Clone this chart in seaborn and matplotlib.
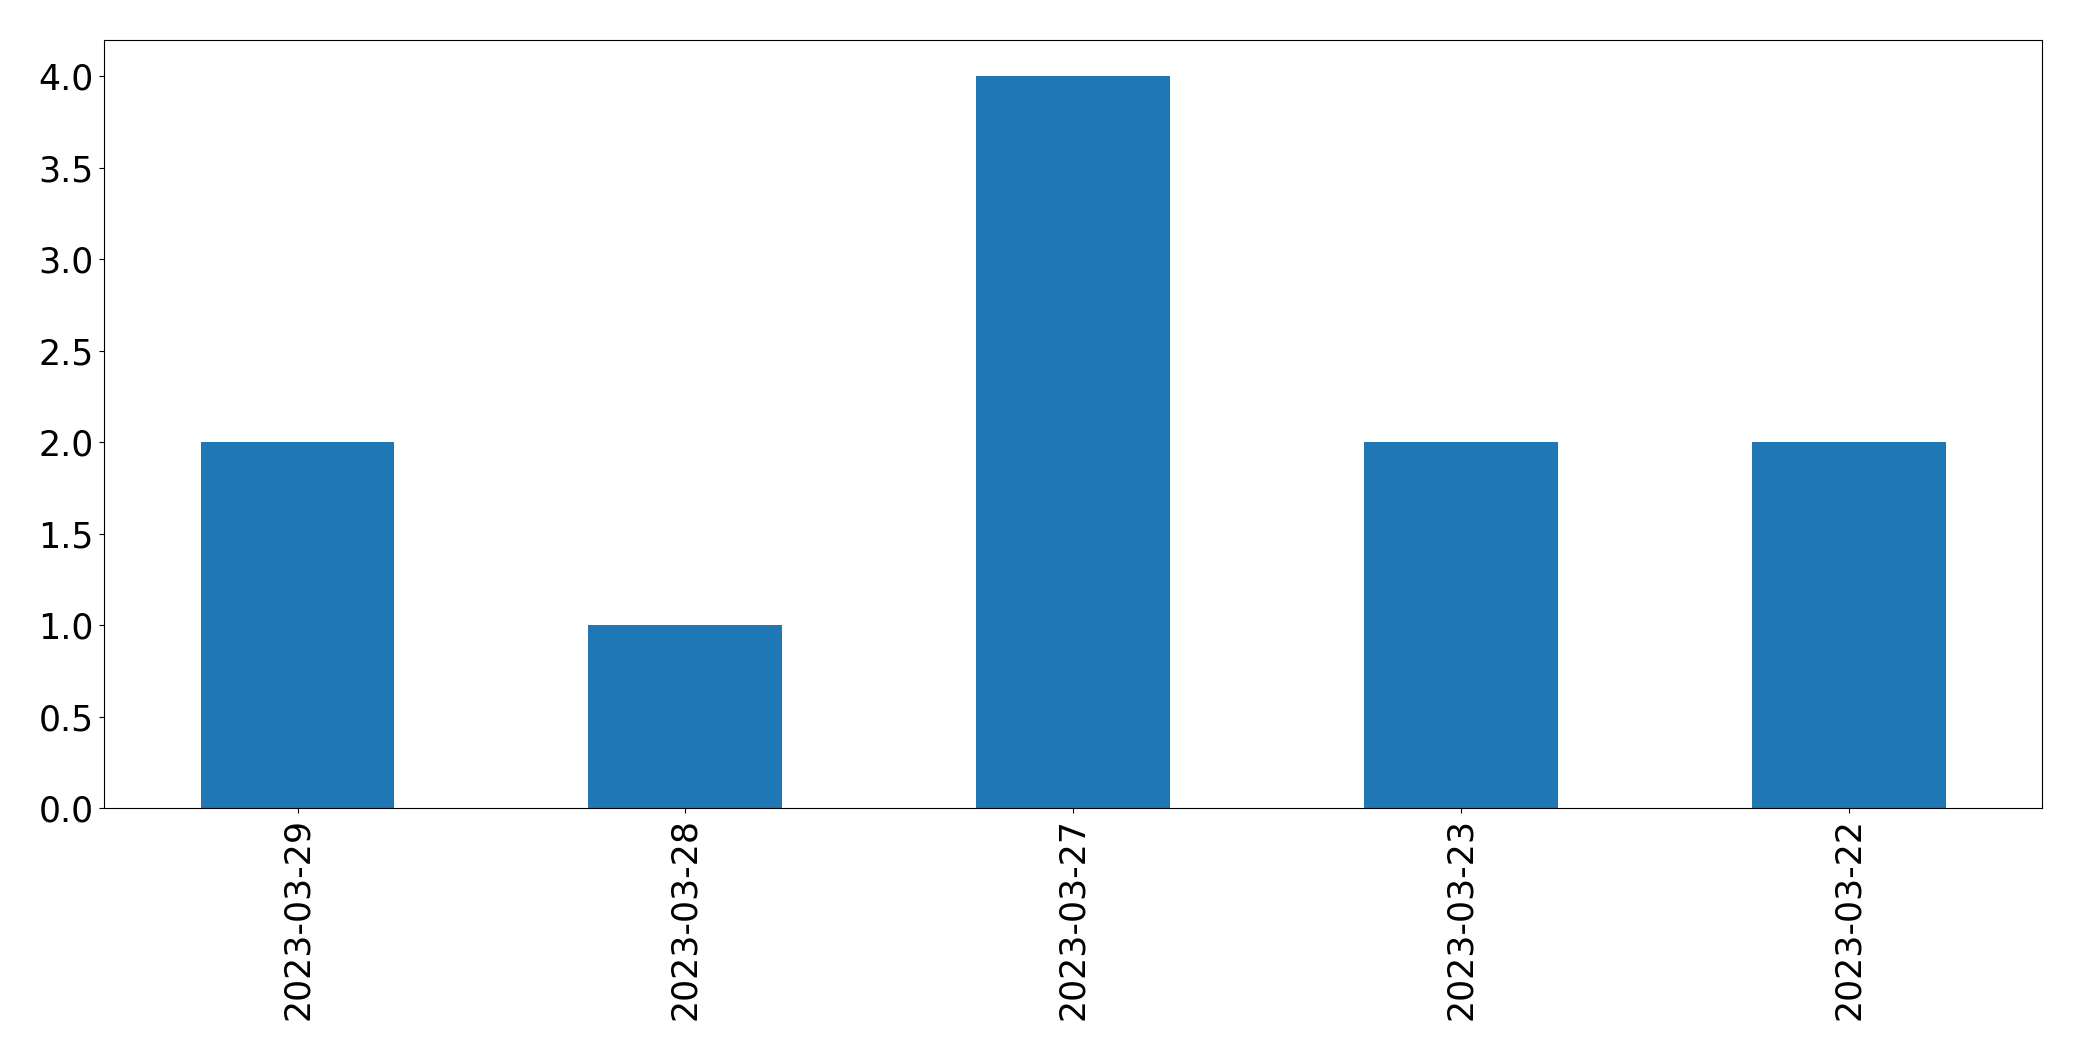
import matplotlib
matplotlib.use("Agg")
import matplotlib.pyplot as plt
import seaborn as sns
import pandas as pd

dates = ["2023-03-29", "2023-03-28", "2023-03-27", "2023-03-23", "2023-03-22"]
counts = [2, 1, 4, 2, 2]

df = pd.DataFrame({"date": dates, "count": counts})

sns.set_style("ticks")
plt.rcParams["font.family"] = ["DejaVu Sans"]

fig, ax = plt.subplots(figsize=(20.82, 10.61), dpi=100)
fig.subplots_adjust(left=0.0498, right=0.981, top=0.9625, bottom=0.238)

sns.barplot(data=df, x="date", y="count", order=dates, color="#1f77b4",
            saturation=1, width=0.5, ax=ax, edgecolor="none")
ax.set_xlim(-0.5, 4.5)
ax.set_ylim(0, 4.2)
ax.set_xlabel("")
ax.set_ylabel("")
ax.set_yticks([0, 0.5, 1.0, 1.5, 2.0, 2.5, 3.0, 3.5, 4.0])
ax.tick_params(axis="both", labelsize=25, length=3.5, width=0.8, color="black", labelcolor="black")
ax.tick_params(axis="x", labelrotation=90)
for s in ax.spines.values():
    s.set_visible(True)
    s.set_color("black")
    s.set_linewidth(0.8)
ax.grid(False)

fig.savefig("out.png", dpi=100, facecolor="white")
